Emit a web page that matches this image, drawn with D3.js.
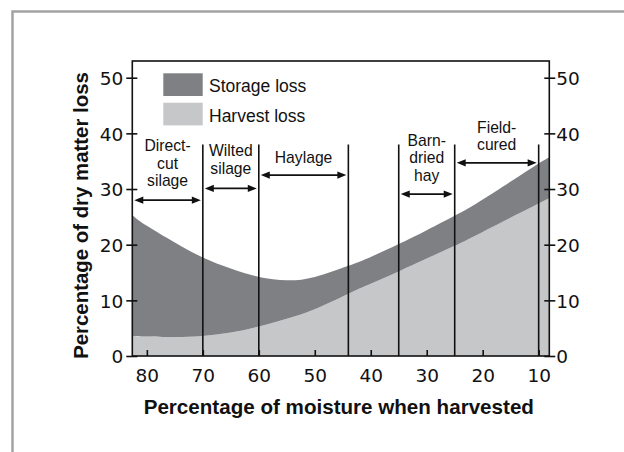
<!DOCTYPE html>
<html><head><meta charset="utf-8">
<script src="https://cdn.jsdelivr.net/npm/d3@7"></script>
<style>body{margin:0;background:#fff}svg{display:block}</style>
</head><body>
<svg id="c" width="624" height="452"></svg>
<script>
// ---- data ----
const moisture    = [82.6, 80, 75, 70, 65, 60, 55, 50, 44, 40, 35, 30, 25, 20, 10, 8.1];
const harvestLoss = [3.6, 3.5, 3.4, 3.6, 4.2, 5.3, 6.7, 8.4, 11.2, 13.0, 15.2, 17.5, 19.8, 22.3, 27.4, 28.3];
const totalLoss   = [25.3, 23.4, 20.4, 17.7, 15.7, 14.2, 13.6, 14.2, 16.2, 17.8, 20.1, 22.6, 25.2, 28.1, 34.6, 35.5];
const xTicks = [80, 70, 60, 50, 40, 30, 20, 10];
const yTicks = [0, 10, 20, 30, 40, 50];
const boundaries = [70, 60, 44, 35, 25, 10];
const boundaryTop = 38;
const rangeNames = [["Direct-", "cut", "silage"], ["Wilted", "silage"], ["Haylage"], ["Barn-", "dried", "hay"], ["Field-", "cured"]];
const rangeFrom  = [82.6, 70, 60, 35, 25];
const rangeTo    = [70, 60, 44, 25, 10];
const arrowLevel = [28.0, 30.1, 32.5, 29.1, 34.7];
const labelLevel = [36.8, 35.9, 34.6, 37.8, 40.1];
const legendNames = ["Storage loss", "Harvest loss"];
const xTitle = "Percentage of moisture when harvested";
const yTitle = "Percentage of dry matter loss";

// ---- layout ----
const C = {dark: "#7f8084", light: "#c6c7c9", ink: "#111"};
const L = 132.3, R = 549.3, T = 61, B = 356;
const textFont = "'Liberation Sans', Arial, sans-serif";
const numFont = "'DejaVu Sans', sans-serif";

const svg = d3.select("#c");
const x = d3.scaleLinear().domain([82.6, 8.1]).range([L, R]);
const y = d3.scaleLinear().domain([0, 53]).range([B, T]);

// outer border (top & left)
svg.append("path").attr("d", `M12.5,452 V11.5 H624`).attr("fill", "none")
  .attr("stroke", "#a3a3a3").attr("stroke-width", 2.5);

const pts = moisture.map((m, i) => ({m, h: harvestLoss[i], t: totalLoss[i]}));
svg.append("clipPath").attr("id", "pc").append("rect")
  .attr("x", L).attr("y", T).attr("width", R - L).attr("height", B - T);
const g = svg.append("g").attr("clip-path", "url(#pc)");
g.append("path").datum(pts).attr("fill", C.light)
  .attr("d", d3.area().x(d => x(d.m)).y0(y(0)).y1(d => y(d.h)).curve(d3.curveNatural));
g.append("path").datum(pts).attr("fill", C.dark)
  .attr("d", d3.area().x(d => x(d.m)).y0(d => y(d.h)).y1(d => y(d.t)).curve(d3.curveNatural));

// boundary lines
svg.append("g").selectAll("line").data(boundaries).join("line")
  .attr("x1", d => x(d)).attr("x2", d => x(d))
  .attr("y1", y(boundaryTop)).attr("y2", y(0))
  .attr("stroke", C.ink).attr("stroke-width", 1.6);

// frame
svg.append("rect").attr("x", L).attr("y", T).attr("width", R - L).attr("height", B - T)
  .attr("fill", "none").attr("stroke", C.ink).attr("stroke-width", 1.6);

// axes
const axL = svg.append("g").attr("transform", `translate(${L},0)`)
  .call(d3.axisLeft(y).tickValues(yTicks).tickSize(6).tickPadding(3));
const axR = svg.append("g").attr("transform", `translate(${R},0)`)
  .call(d3.axisRight(y).tickValues(yTicks).tickSize(6).tickPadding(1));
const axB = svg.append("g").attr("transform", `translate(0,${B})`)
  .call(d3.axisBottom(x).tickValues(xTicks).tickSize(-6).tickPadding(13));
[axL, axR, axB].forEach(a => {
  a.select(".domain").remove();
  a.selectAll("line").attr("stroke", C.ink).attr("stroke-width", 1.6);
  a.selectAll("text").attr("font-family", numFont).attr("font-size", 18.5).attr("fill", C.ink);
});
// y ticks cross the frame
axL.selectAll(".tick line").attr("x1", 5);
axR.selectAll(".tick line").attr("x1", -5);
axL.selectAll(".tick text").attr("dy", "0.36em");
axR.selectAll(".tick text").attr("dy", "0.36em");
axB.selectAll(".tick text").attr("dy", "0.72em");

// titles
svg.append("text").attr("x", (L + R) / 2 - 2).attr("y", 414).attr("text-anchor", "middle")
  .attr("font-family", textFont).attr("font-weight", "bold").attr("font-size", 20.6)
  .attr("fill", C.ink).text(xTitle);
svg.append("text").attr("transform", `translate(87.5,${215.5}) rotate(-90)`).attr("text-anchor", "middle")
  .attr("font-family", textFont).attr("font-weight", "bold").attr("font-size", 20.4)
  .attr("fill", C.ink).text(yTitle);

// legend
const lg = svg.append("g");
legendNames.forEach((n, i) => {
  lg.append("rect").attr("x", 163.3).attr("y", 73.3 + i * 29.4).attr("width", 39.4).attr("height", 22.7)
    .attr("fill", i === 0 ? C.dark : C.light);
  lg.append("text").attr("x", 209).attr("y", 91.7 + i * 30).attr("font-family", textFont)
    .attr("font-size", 17.5).attr("fill", C.ink).text(n);
});

// range labels & arrows
const ah = 9, aw = 3.6, lh = 17.6;
rangeNames.forEach((lines, i) => {
  const x0 = x(rangeFrom[i]) + 2, x1 = x(rangeTo[i]) - 2, yy = y(arrowLevel[i]);
  const cx = (x(rangeFrom[i]) + x(rangeTo[i])) / 2;
  svg.append("line").attr("x1", x0 + 3).attr("x2", x1 - 3).attr("y1", yy).attr("y2", yy)
    .attr("stroke", C.ink).attr("stroke-width", 1.8);
  svg.append("path").attr("fill", C.ink)
    .attr("d", `M${x0},${yy} L${x0 + ah},${yy - aw} L${x0 + ah},${yy + aw} Z M${x1},${yy} L${x1 - ah},${yy - aw} L${x1 - ah},${yy + aw} Z`);
  lines.forEach((s, j) => {
    svg.append("text").attr("text-anchor", "middle").attr("font-family", textFont)
      .attr("font-size", 15.7).attr("fill", C.ink)
      .attr("x", cx).attr("y", y(labelLevel[i]) + j * lh).text(s);
  });
});
</script>
</body></html>
